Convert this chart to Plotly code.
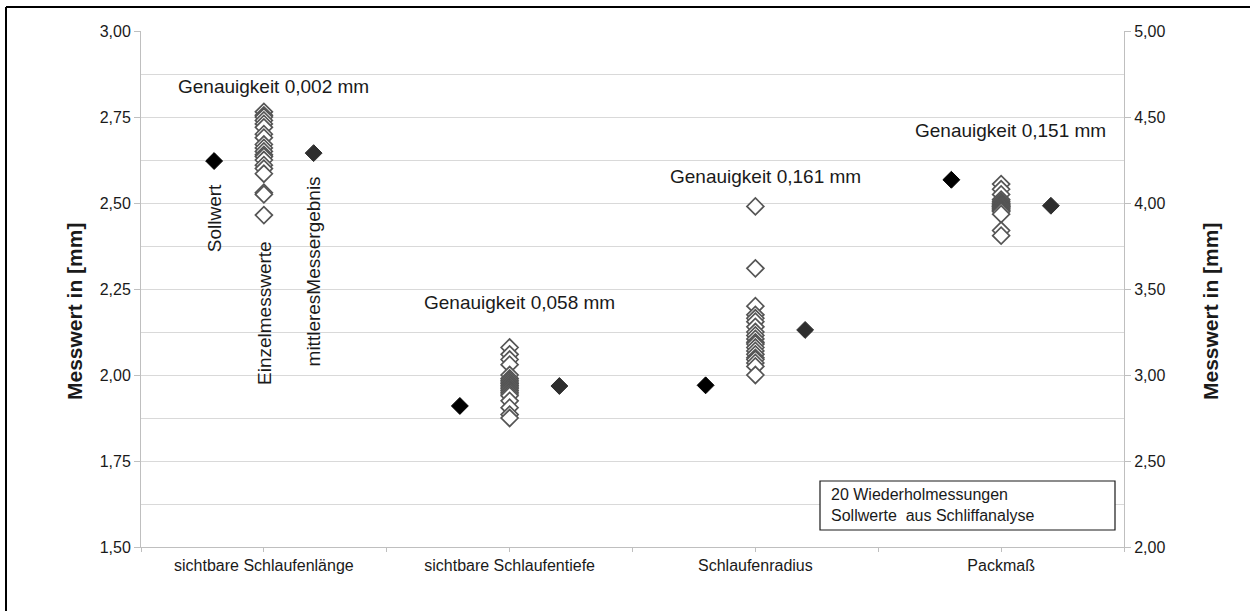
import plotly.graph_objects as go

# Categories and measured values (mm)
categories = ["sichtbare Schlaufenlänge", "sichtbare Schlaufentiefe", "Schlaufenradius", "Packmaß"]

# Primary axis groups (first three categories)
soll_primary = [2.622, 1.910, 1.970]
mittel_primary = [2.645, 1.968, 2.131]
einzel_laenge = [2.765, 2.755, 2.75, 2.74, 2.73, 2.72, 2.70, 2.69, 2.67, 2.66,
                 2.65, 2.64, 2.635, 2.625, 2.61, 2.60, 2.585, 2.53, 2.525, 2.465]
einzel_tiefe = [2.08, 2.06, 2.045, 2.03, 2.00, 1.99, 1.985, 1.98, 1.975, 1.97,
                1.965, 1.96, 1.955, 1.95, 1.945, 1.94, 1.925, 1.905, 1.885, 1.875]
einzel_radius = [2.49, 2.31, 2.20, 2.175, 2.165, 2.155, 2.14, 2.125, 2.115, 2.105,
                 2.095, 2.09, 2.08, 2.07, 2.06, 2.05, 2.045, 2.035, 2.025, 2.00]

# Secondary axis group (Packmaß)
soll_pack = 4.135
mittel_pack = 3.984
einzel_pack = [4.11, 4.08, 4.05, 4.02, 4.01, 4.00, 3.995, 3.99, 3.985, 3.98,
               3.98, 3.975, 3.97, 3.965, 3.96, 3.955, 3.95, 3.935, 3.84, 3.81]

genauigkeit = ["Genauigkeit 0,002 mm", "Genauigkeit 0,058 mm",
               "Genauigkeit 0,161 mm", "Genauigkeit 0,151 mm"]
genauigkeit_y = [2.84, 2.21, 2.576, 2.71]

left_ticks = [1.50, 1.75, 2.00, 2.25, 2.50, 2.75, 3.00]
right_ticks = [2.0, 2.5, 3.0, 3.5, 4.0, 4.5, 5.0]

# Category centres on a numeric x axis (0..8), markers offset left/right
centers = [1, 3, 5, 7]
offset = 0.405
label_shift = 0.08

FONT = "Liberation Sans, Arial, sans-serif"
TXT = "#1a1a1a"

fig = go.Figure()

einzel_primary = [einzel_laenge, einzel_tiefe, einzel_radius]
ex, ey = [], []
for c, vals in zip(centers[:3], einzel_primary):
    ex += [c] * len(vals)
    ey += vals

hollow = dict(symbol="diamond", size=13, color="white",
              line=dict(color="#555555", width=1.7))
solid = dict(symbol="diamond", size=13, color="#000000",
             line=dict(color="#000000", width=1))
mean_m = dict(symbol="diamond", size=13, color="#2e2e2e",
              line=dict(color="#2e2e2e", width=1))

fig.add_trace(go.Scatter(x=ex, y=ey, mode="markers", marker=hollow,
                         showlegend=False, hoverinfo="y"))
fig.add_trace(go.Scatter(x=[c - offset for c in centers[:3]], y=soll_primary,
                         mode="markers", marker=solid, showlegend=False))
fig.add_trace(go.Scatter(x=[c + offset for c in centers[:3]], y=mittel_primary,
                         mode="markers", marker=mean_m, showlegend=False))

fig.add_trace(go.Scatter(x=[centers[3]] * len(einzel_pack), y=einzel_pack,
                         mode="markers", marker=hollow, yaxis="y2",
                         showlegend=False))
fig.add_trace(go.Scatter(x=[centers[3] - offset], y=[soll_pack], mode="markers",
                         marker=solid, yaxis="y2", showlegend=False))
fig.add_trace(go.Scatter(x=[centers[3] + offset], y=[mittel_pack], mode="markers",
                         marker=mean_m, yaxis="y2", showlegend=False))

# Plot area in pixels
W, H = 1250, 611
L, R, T, B = 141, 1124, 31, 547


def px(xp):
    return (xp - L) / (R - L)


def py(yp):
    return (B - yp) / (B - T)


annotations = []
for c, txt, yv in zip(centers, genauigkeit, genauigkeit_y):
    annotations.append(dict(x=c + label_shift, y=yv, xref="x", yref="y", text=txt,
                            xanchor="center", yanchor="middle",
                            showarrow=False, font=dict(size=19, color=TXT)))

# Rotated series labels above the first category
for xv, yv, txt in [(centers[0] - offset, 2.456, "Sollwert"),
                    (centers[0], 2.18, "Einzelmesswerte"),
                    (centers[0] + offset, 2.30, "mittleresMessergebnis")]:
    annotations.append(dict(x=xv, y=yv, xref="x", yref="y", text=txt,
                            xanchor="center", yanchor="middle",
                            textangle=-90, showarrow=False,
                            font=dict(size=19, color=TXT)))

# Axis titles
for xp in (74, 1210):
    annotations.append(dict(x=px(xp), y=py(312), xref="paper", yref="paper",
                            xanchor="center", yanchor="middle",
                            text="<b>Messwert in [mm]</b>", textangle=-90,
                            showarrow=False, font=dict(size=21, color=TXT)))

# Note box text
annotations.append(dict(x=px(829), y=py(505), xref="paper", yref="paper",
                        xanchor="left", yanchor="middle", align="left",
                        text="20 Wiederholmessungen<br>Sollwerte  aus Schliffanalyse",
                        showarrow=False, font=dict(size=16, color=TXT)))

shapes = [
    dict(type="rect", xref="paper", yref="paper", x0=px(820), x1=px(1115),
         y0=py(530), y1=py(481), line=dict(color="#1a1a1a", width=1.2),
         fillcolor="white", layer="above"),
    # outer frame (top and left edges)
    dict(type="line", xref="paper", yref="paper", x0=px(6), x1=px(1252),
         y0=py(7), y1=py(7), line=dict(color="black", width=2)),
    dict(type="line", xref="paper", yref="paper", x0=px(6), x1=px(6),
         y0=py(7), y1=py(615), line=dict(color="black", width=2)),
]

fig.update_layout(
    width=W, height=H,
    margin=dict(l=L, r=W - R, t=T, b=H - B),
    paper_bgcolor="white", plot_bgcolor="white",
    separators=", ",
    font=dict(family=FONT, size=16, color=TXT),
    showlegend=False,
    xaxis=dict(range=[0, 8], tickvals=[1, 3, 5, 7], ticktext=categories,
               ticks="outside", ticklen=4, tickcolor="#bfbfbf",
               showgrid=False, zeroline=False, showline=True,
               linecolor="#bfbfbf", linewidth=1,
               tickfont=dict(size=16, color=TXT),
               minor=dict(tickvals=[0, 2, 4, 6, 8], ticks="outside",
                          ticklen=4, tickcolor="#bfbfbf")),
    yaxis=dict(range=[1.5, 3.0], tickvals=left_ticks, tickformat=".2f",
               ticks="outside", ticklen=6, tickcolor="#bfbfbf",
               showline=True, linecolor="#bfbfbf", linewidth=1,
               showgrid=True, gridcolor="#d9d9d9", gridwidth=1, zeroline=False,
               minor=dict(dtick=0.125, tick0=1.5, showgrid=True,
                          gridcolor="#d9d9d9", gridwidth=1),
               tickfont=dict(size=16, color=TXT)),
    yaxis2=dict(range=[2.0, 5.0], tickvals=right_ticks, tickformat=".2f",
                overlaying="y", side="right",
                ticks="outside", ticklen=6, tickcolor="#bfbfbf",
                showline=True, linecolor="#bfbfbf", linewidth=1,
                showgrid=False, zeroline=False,
                tickfont=dict(size=16, color=TXT)),
    annotations=annotations,
    shapes=shapes,
)

fig.write_html("out.html")
